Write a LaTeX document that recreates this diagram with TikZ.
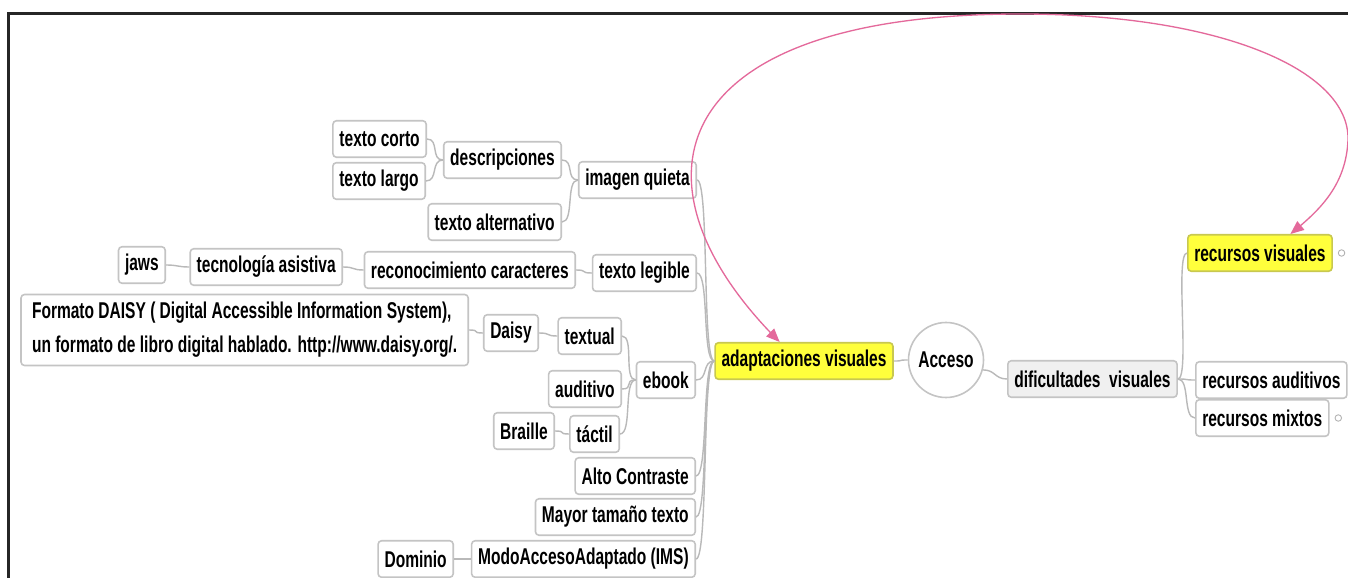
\documentclass[tikz,border=0pt]{standalone}
\usepackage{fontspec}
\newfontfamily\mapfont{Liberation Sans}[FakeStretch=0.68]
\usepackage{tikz}
\usetikzlibrary{arrows,positioning}
\definecolor{BoxLine}{RGB}{196,196,196}
\definecolor{LinkGray}{RGB}{185,185,185}
\definecolor{MarkYellow}{RGB}{255,255,60}
\definecolor{MarkLine}{RGB}{200,200,80}
\definecolor{RelPink}{RGB}{228,105,155}

\begin{document}
\begin{tikzpicture}
    [
        Topic/.style={rectangle,rounded corners=2pt,draw=BoxLine,line width=0.9pt,fill=white,text=black,minimum height=0.73cm,inner xsep=0.13cm,inner ysep=0pt,font=\mapfont\bfseries\fontsize{13}{19.3}\selectfont},
        Marked/.style={Topic,fill=MarkYellow,draw=MarkLine},
        Hub/.style={circle,draw=BoxLine,line width=0.9pt,fill=white,minimum size=1.5cm,inner sep=0pt,font=\mapfont\bfseries\fontsize{13}{19.3}\selectfont},
        Note/.style={Topic,align=left,minimum height=1.42cm,inner xsep=0.22cm},
        Fold/.style={circle,draw=gray!60,line width=0.5pt,fill=white,inner sep=0pt,minimum size=0.13cm},
        Link/.style={draw=LinkGray,line width=0.8pt,to path={.. controls +(0.25,0) and +(-0.25,0) .. (\tikztotarget)}},
        Relation/.style={draw=RelPink,line width=0.75pt,<->,>=triangle 45}
    ]
    \useasboundingbox (0,0) rectangle (26.96,11.54);
    \fill[white] (0,0) rectangle (26.96,11.54);
    \clip (0,0) rectangle (26.96,11.54);
    \draw[line width=1.5pt,black!85] (0.17,-0.1) -- (0.17,11.27) -- (27.1,11.27);

    % left branch
    \node[Topic,anchor=east] (TextoCorto) at (8.54,8.76) {texto corto};
    \node[Topic,anchor=east] (TextoLargo) at (8.52,7.92) {texto largo};
    \node[Topic,anchor=east] (Descripciones) at (11.24,8.34) {descripciones};
    \node[Topic,anchor=east] (TextoAlt) at (11.24,7.10) {texto alternativo};
    \node[Topic,anchor=east] (ImagenQuieta) at (13.94,7.94) {imagen quieta};
    \node[Topic,anchor=east] (Jaws) at (3.32,6.24) {jaws};
    \node[Topic,anchor=east] (TecAsistiva) at (6.86,6.20) {tecnología asistiva};
    \node[Topic,anchor=east] (Reconocimiento) at (11.52,6.14) {reconocimiento caracteres};
    \node[Topic,anchor=east] (TextoLegible) at (13.94,6.08) {texto legible};
    \node[Note,anchor=east] (Formato) at (9.38,4.94) {Formato DAISY ( Digital Accessible Information System),\\un formato de libro digital hablado. http://www.daisy.org/.};
    \node[Topic,anchor=east] (Daisy) at (10.78,4.88) {Daisy};
    \node[Topic,anchor=east] (Textual) at (12.44,4.82) {textual};
    \node[Topic,anchor=east] (Auditivo) at (12.44,3.76) {auditivo};
    \node[Topic,anchor=east] (Braille) at (11.10,2.92) {Braille};
    \node[Topic,anchor=east] (Tactil) at (12.40,2.86) {táctil};
    \node[Topic,anchor=east] (Ebook) at (13.92,3.94) {ebook};
    \node[Topic,anchor=east] (AltoContraste) at (13.92,2.02) {Alto Contraste};
    \node[Topic,anchor=east] (MayorTexto) at (13.92,1.20) {Mayor tamaño texto};
    \node[Topic,anchor=east] (Dominio) at (9.08,0.36) {Dominio};
    \node[Topic,anchor=east] (ModoAcceso) at (13.92,0.36) {ModoAccesoAdaptado (IMS)};

    % centre and right branch
    \node[Marked] (Adaptaciones) at (16.08,4.32) {adaptaciones visuales};
    \node[Hub] (Acceso) at (18.92,4.34) {Acceso};
    \node[Topic,fill=gray!12,anchor=west] (Dificultades) at (20.14,3.96) {dificultades\ \ visuales};
    \node[Marked,anchor=west] (RecVisuales) at (23.74,6.48) {recursos visuales};
    \node[Topic,anchor=west] (RecAuditivos) at (23.90,3.94) {recursos auditivos};
    \node[Topic,anchor=west] (RecMixtos) at (23.90,3.18) {recursos mixtos};
    \node[Fold,right=0.1cm of RecVisuales] (RecVisualesFold) {};
    \node[Fold,right=0.1cm of RecMixtos] (RecMixtosFold) {};

    \draw[Link] (TextoCorto.east) to (Descripciones.west);
    \draw[Link] (TextoLargo.east) to (Descripciones.west);
    \draw[Link] (Descripciones.east) to (ImagenQuieta.west);
    \draw[Link] (TextoAlt.east) to (ImagenQuieta.west);
    \draw[Link] (Jaws.east) to (TecAsistiva.west);
    \draw[Link] (TecAsistiva.east) to (Reconocimiento.west);
    \draw[Link] (Reconocimiento.east) to (TextoLegible.west);
    \draw[Link] (Formato.east) to (Daisy.west);
    \draw[Link] (Daisy.east) to (Textual.west);
    \draw[Link] (Textual.east) to (Ebook.west);
    \draw[Link] (Auditivo.east) to (Ebook.west);
    \draw[Link] (Braille.east) to (Tactil.west);
    \draw[Link] (Tactil.east) to (Ebook.west);
    \draw[Link] (Dominio.east) to (ModoAcceso.west);
    \draw[Link] (ImagenQuieta.east) to (Adaptaciones.west);
    \draw[Link] (TextoLegible.east) to (Adaptaciones.west);
    \draw[Link] (Ebook.east) to (Adaptaciones.west);
    \draw[Link] (AltoContraste.east) to (Adaptaciones.west);
    \draw[Link] (MayorTexto.east) to (Adaptaciones.west);
    \draw[Link] (ModoAcceso.east) to (Adaptaciones.west);
    \draw[Link] (Adaptaciones.east) to (Acceso.west);
    \draw[Link] (Acceso.-15) to (Dificultades.west);
    \draw[Link] (Dificultades.east) to (RecVisuales.west);
    \draw[Link] (Dificultades.east) to (RecAuditivos.west);
    \draw[Link] (Dificultades.east) to (RecMixtos.west);

    % relation over the top
    \draw[Relation] (Adaptaciones.142) .. controls (12.4,7.9) and (13.3,11.26) .. (20.4,11.26)
        .. controls (24.4,11.26) and (27.0,10.14) .. (26.96,8.74)
        .. controls (26.92,7.84) and (26.4,7.34) .. (RecVisuales.32);
\end{tikzpicture}
\end{document}
